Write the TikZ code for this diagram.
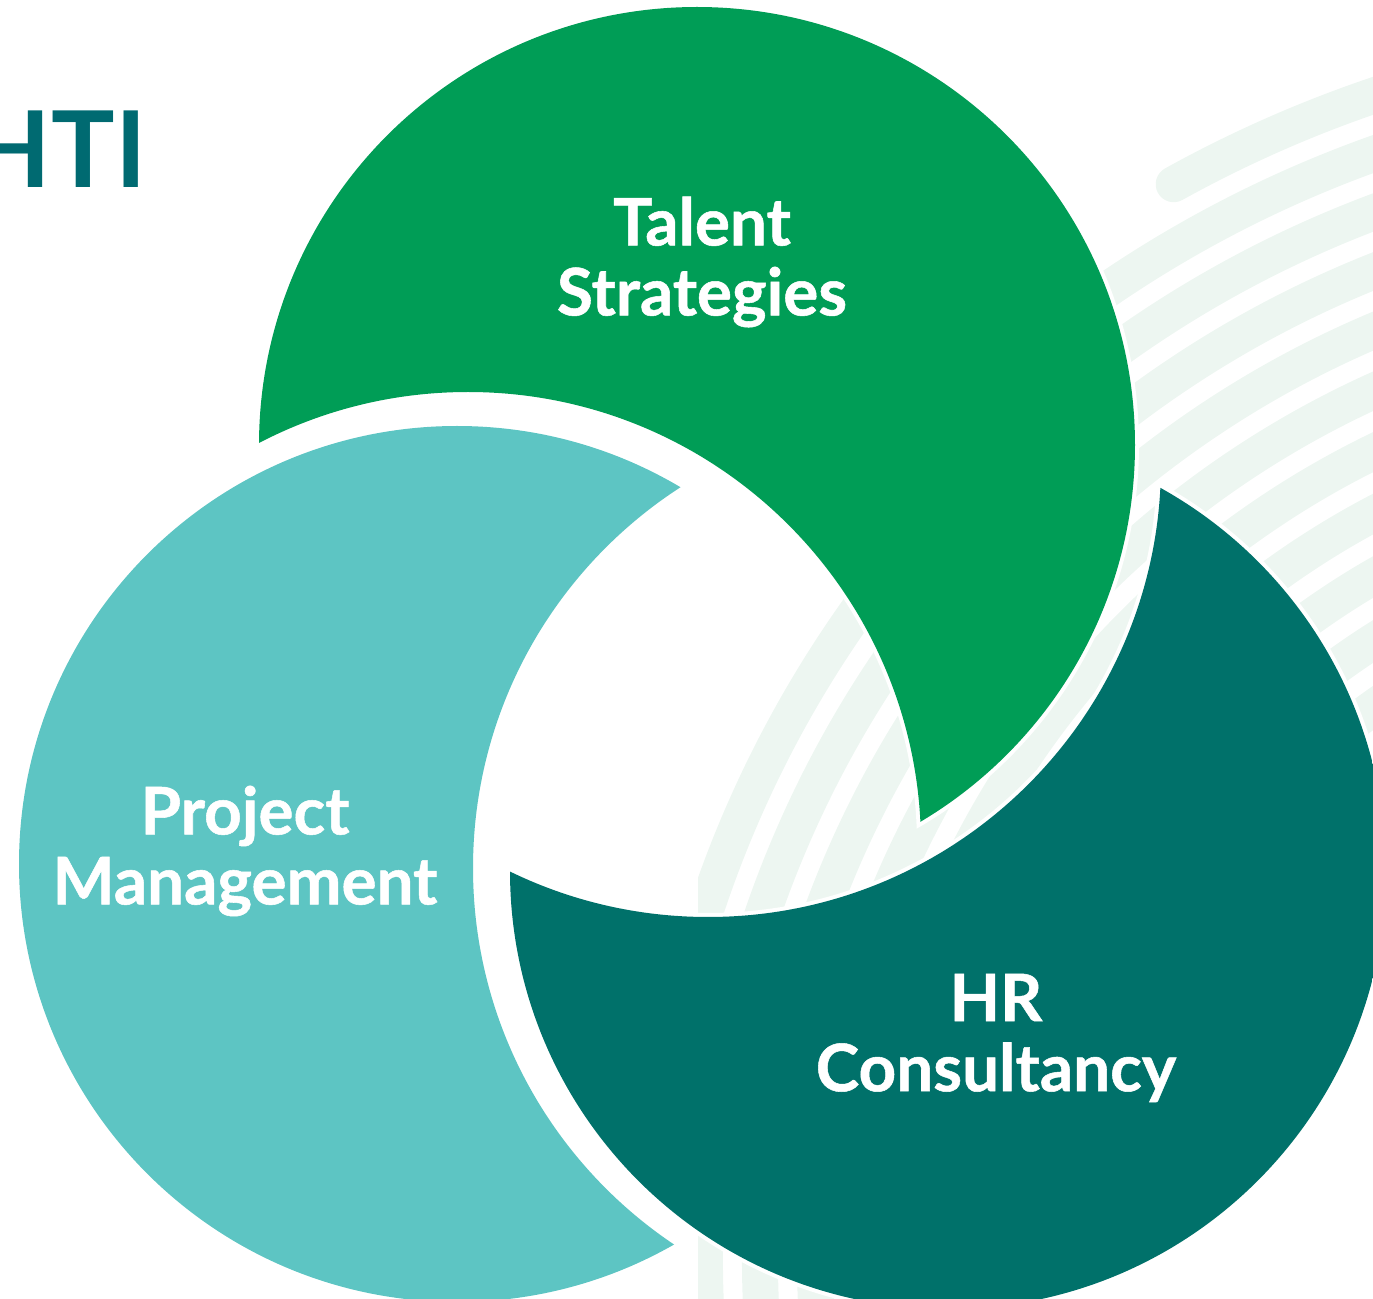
\documentclass[tikz,border=0pt]{standalone}
\usepackage{fontspec}
\setmainfont{Lato}
\usetikzlibrary{calc}

\definecolor{talent}{HTML}{009D56}
\definecolor{project}{HTML}{5DC5C3}
\definecolor{hrc}{HTML}{00716A}
\definecolor{logoteal}{HTML}{006A71}
\definecolor{swirl}{HTML}{EDF6F1}

\begin{document}
\begin{tikzpicture}[x=0.5pt,y=-0.5pt,
  caption/.style={text=white,inner sep=0pt,align=center,
    font=\bfseries\addfontfeatures{FakeBold=0.8}\fontsize{32.8}{35}\selectfont},
  swirlstroke/.style={draw=swirl,line width=18pt,line cap=round}]
\useasboundingbox (0,0) rectangle (1373,1299);
\clip (0,0) rectangle (1373,1299);

% circle centres and the offset circles that carve each petal
\coordinate (gc) at (697,445);
\coordinate (tc) at (457,864);
\coordinate (dc) at (948,871);
\coordinate (gcut) at (468,845);
\coordinate (tcut) at (926,868);
\coordinate (dcut) at (708,464);
\coordinate (swc) at (1770,1260);

% faint brush strokes in the background
\begin{scope}
  \clip (698,60) rectangle (1373,1299);
  \foreach \r/\a/\b in {625/205/262, 680/205/262, 735/205/262, 790/205/262,
                        845/200/262, 900/178/260, 955/176/260, 1010/175/260,
                        1065/174/260, 1120/175/260, 1175/225/260, 1230/241/260}
    \draw[swirlstroke] (swc) ++(\a:\r) arc[start angle=\a,end angle=\b,radius=\r];
\end{scope}

% Talent Strategies petal: white rim, then the colour
\begin{scope}
  \clip (gc) circle (442);
  \fill[white,even odd rule] (-50,-50) rectangle (1450,1350) (gcut) circle (449);
\end{scope}
\begin{scope}
  \clip (gc) circle (438);
  \fill[talent,even odd rule] (-50,-50) rectangle (1450,1350) (gcut) circle (453);
\end{scope}

% Project Management petal
\begin{scope}
  \clip (tc) circle (442);
  \fill[white,even odd rule] (-50,-50) rectangle (1450,1350) (tcut) circle (449);
\end{scope}
\begin{scope}
  \clip (tc) circle (438);
  \fill[project,even odd rule] (-50,-50) rectangle (1450,1350) (tcut) circle (453);
\end{scope}

% HR Consultancy petal
\begin{scope}
  \clip (dc) circle (442);
  \fill[white,even odd rule] (-50,-50) rectangle (1450,1350) (dcut) circle (449);
\end{scope}
\begin{scope}
  \clip (dc) circle (438);
  \fill[hrc,even odd rule] (-50,-50) rectangle (1450,1350) (dcut) circle (453);
\end{scope}

% labels
\node[caption] (talentlbl) at (702,262) {Talent\\Strategies};
\node[caption] (projectlbl) at (245,851) {Project\\Management};
\node[caption] (hrlbl) at (996,1038) {HR\\Consultancy};

% logo lettering
\node[anchor=base east,inner sep=0pt,text=logoteal,
      font=\bfseries\fontsize{53}{53}\selectfont] (logo) at (147,188) {HTI};
\end{tikzpicture}
\end{document}
